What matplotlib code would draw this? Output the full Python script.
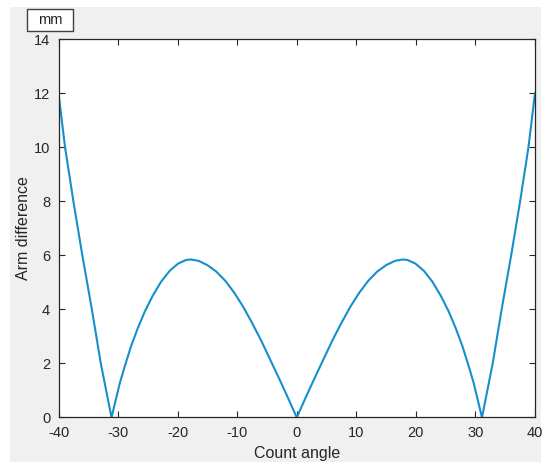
import matplotlib
matplotlib.use("Agg")
import matplotlib.pyplot as plt
from matplotlib.patches import Rectangle

# values (left half, the right half mirrors it)
left_angle = [-40.0, -38.9, -37.5, -36.0, -34.4, -32.9, -31.1,
              -30.5, -29.7, -28.8, -27.8, -26.7, -25.5, -24.2, -22.8, -21.3,
              -19.9, -18.6, -17.8, -16.5, -15.0, -13.5, -12.0, -10.5, -9.0,
              -7.5, -6.0, -4.5, -3.0, -1.5, 0.0]
left_diff = [12.0, 10.0, 8.0, 6.0, 4.0, 2.0, 0.0,
             0.55, 1.28, 1.95, 2.65, 3.30, 3.93, 4.50, 5.02, 5.44,
             5.70, 5.83, 5.85, 5.80, 5.64, 5.40, 5.06, 4.62, 4.10,
             3.50, 2.86, 2.16, 1.46, 0.74, 0.0]
angle = left_angle + [-a for a in reversed(left_angle[:-1])]
arm_diff = left_diff + list(reversed(left_diff[:-1]))

x_ticks = [-40, -30, -20, -10, 0, 10, 20, 30, 40]
y_ticks = [0, 2, 4, 6, 8, 10, 12, 14]

plt.rcParams['font.family'] = ['Liberation Sans', 'DejaVu Sans']
plt.rcParams['axes.unicode_minus'] = False
dark = '#262626'

fig = plt.figure(figsize=(5.5, 4.72), dpi=100, facecolor='white')
# grey matlab-like figure panel, behind the axes
fig.patches.append(Rectangle((0.018, 0.021), 0.9655, 0.964, transform=fig.transFigure,
                             facecolor='#f0f0f0', edgecolor='none', zorder=-5))
# little "mm" box
fig.patches.append(Rectangle((0.049, 0.9343), 0.0836, 0.0466, transform=fig.transFigure,
                             facecolor='white', edgecolor='#404040', lw=1.0, zorder=1))
fig.text(0.049 + 0.0418, 0.9343 + 0.0233, 'mm', ha='center', va='center',
         fontsize=10.5, color='#202020', zorder=2)

ax = fig.add_axes([0.1064, 0.1155, 0.8663, 0.8012])
ax.plot(angle, arm_diff, color='#168fcc', lw=1.5, solid_joinstyle='round')

ax.set_xlim(-40, 40)
ax.set_ylim(0, 14)
ax.set_xticks(x_ticks)
ax.set_yticks(y_ticks)
ax.tick_params(direction='in', top=True, right=True, length=4, width=0.8,
               colors=dark, labelsize=10.5, pad=6)
for s in ax.spines.values():
    s.set_color(dark)
    s.set_linewidth(0.9)

ax.set_xlabel('Count angle', fontsize=11.5, color=dark)
ax.set_ylabel('Arm difference', fontsize=11.5, color=dark)
ax.xaxis.set_label_coords(0.5, -0.075)
ax.yaxis.set_label_coords(-0.058, 0.5)

fig.savefig('out.png', dpi=100, facecolor=fig.get_facecolor())
